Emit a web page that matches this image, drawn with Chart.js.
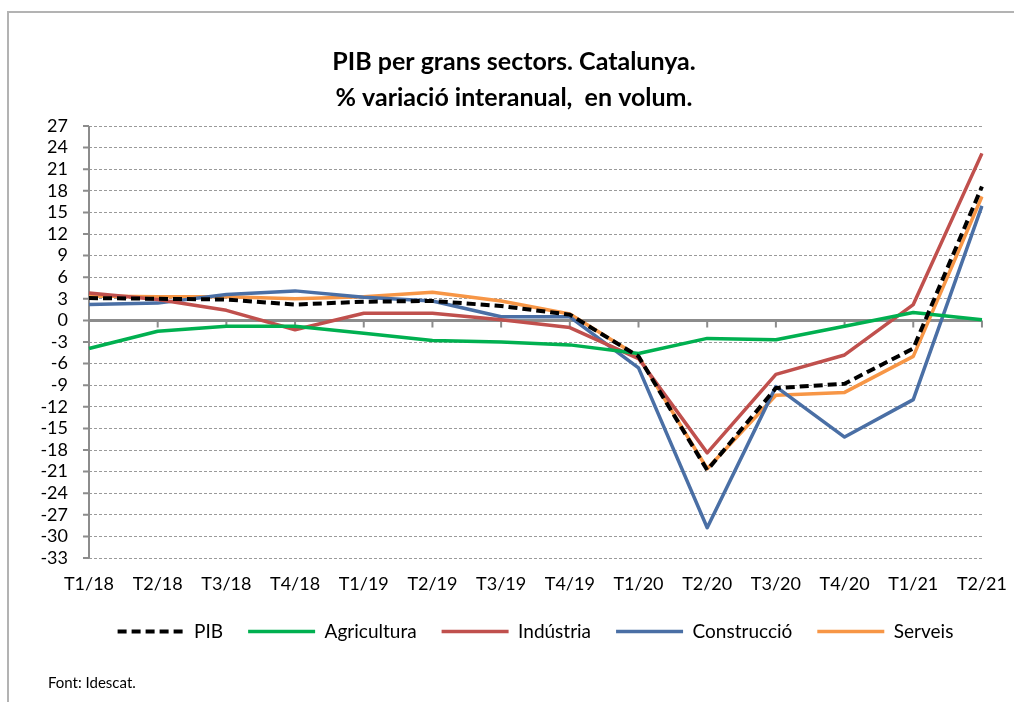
<!DOCTYPE html>
<html>
<head>
<meta charset="utf-8">
<script src="https://cdn.jsdelivr.net/npm/chart.js@4"></script>
<style>
  html, body { margin: 0; padding: 0; background: #fff; }
  #wrap { position: relative; width: 1014px; height: 702px; overflow: hidden; }
  #frame { position: absolute; left: 7px; top: 11px; width: 1100px; height: 800px;
           border-left: 2px solid #b3b3b3; border-top: 2px solid #b3b3b3; }
  #chart { position: absolute; left: 0; top: 0; }
  #font { position: absolute; left: 48px; top: 673px; font: 15px Lato, sans-serif; color: #000; }
</style>
</head>
<body>
<div id="wrap">
  <div id="frame"></div>
  <canvas id="chart" width="1014" height="702"></canvas>
  <div id="font">Font: Idescat.</div>
</div>
<script>
"use strict";

// data
const quarters = ['T1/18', 'T2/18', 'T3/18', 'T4/18', 'T1/19', 'T2/19', 'T3/19',
  'T4/19', 'T1/20', 'T2/20', 'T3/20', 'T4/20', 'T1/21', 'T2/21'];

const pib = [3.1, 3.0, 2.9, 2.2, 2.6, 2.7, 2.0, 0.8, -5.0, -20.8, -9.4, -8.8, -3.9, 18.6];
const agricultura = [-3.9, -1.5, -0.8, -0.8, -1.8, -2.8, -3.0, -3.4, -4.6, -2.5, -2.7, -0.8, 1.1, 0.1];
const industria = [3.8, 2.9, 1.4, -1.3, 1.0, 1.0, 0.1, -1.0, -5.3, -18.4, -7.5, -4.8, 2.2, 23.2];
const construccio = [2.2, 2.4, 3.6, 4.1, 3.2, 2.7, 0.5, 0.5, -6.6, -28.8, -9.2, -16.2, -11.0, 15.9];
const serveis = [3.4, 3.3, 3.3, 3.0, 3.3, 3.9, 2.7, 0.9, -5.0, -20.6, -10.4, -10.0, -5.0, 17.2];

const yMin = -33, yMax = 27, yStep = 3;

const titleLines = ['PIB per grans sectors. Catalunya.', '% variació interanual,  en volum.'];

// axis lines drawn like the excel original: y axis + solid zero line with tick marks
const axisLines = {
  id: 'axisLines',
  beforeDatasetsDraw(chart) {
    const { ctx, chartArea } = chart;
    const x = chart.scales.x;
    const y = chart.scales.y;
    const y0 = y.getPixelForValue(0);
    ctx.save();
    ctx.strokeStyle = '#8c8c8c';
    ctx.lineWidth = 2;
    ctx.setLineDash([]);
    ctx.beginPath();
    ctx.moveTo(chartArea.left, chartArea.top);
    ctx.lineTo(chartArea.left, chartArea.bottom);
    y.ticks.forEach((t) => {
      const py = y.getPixelForValue(t.value);
      ctx.moveTo(chartArea.left - 6, py);
      ctx.lineTo(chartArea.left, py);
    });
    ctx.stroke();
    ctx.lineWidth = 3;
    ctx.beginPath();
    ctx.moveTo(chartArea.left, y0);
    ctx.lineTo(chartArea.right, y0);
    ctx.stroke();
    ctx.lineWidth = 2;
    ctx.beginPath();
    x.ticks.forEach((t, i) => {
      const px = x.getPixelForTick(i);
      ctx.moveTo(px, y0);
      ctx.lineTo(px, y0 + 7);
    });
    ctx.stroke();
    ctx.restore();
  }
};

const line = (label, data, color, dash) => ({
  label,
  data,
  borderColor: color,
  backgroundColor: color,
  borderWidth: dash ? 4 : 3.5,
  borderDash: dash || [],
  borderJoinStyle: 'round',
  pointRadius: 0,
  tension: 0
});

const config = {
  type: 'line',
  data: {
    labels: quarters,
    datasets: [
      line('PIB', pib, '#000000', [9, 5]),
      line('Agricultura', agricultura, '#00b050'),
      line('Indústria', industria, '#c0504d'),
      line('Construcció', construccio, '#4a6fa5'),
      line('Serveis', serveis, '#f79646')
    ]
  },
  plugins: [axisLines],
  options: {
    responsive: false,
    animation: false,
    layout: { padding: { left: 40, right: 26, top: 0, bottom: 51 } },
    plugins: {
      title: {
        display: true,
        text: titleLines,
        color: '#000',
        font: { family: 'Lato', size: 25, weight: 'bold', lineHeight: 1.44 },
        padding: { top: 44, bottom: 10 }
      },
      legend: {
        position: 'bottom',
        fullSize: false,
        labels: {
          color: '#000',
          font: { family: 'Lato', size: 19 },
          usePointStyle: true,
          pointStyle: 'line',
          pointStyleWidth: 67,
          padding: 25,
          generateLabels: (chart) => {
            const items = Chart.defaults.plugins.legend.labels.generateLabels(chart);
            items.forEach((it) => {
              const ds = chart.data.datasets[it.datasetIndex];
              it.lineDash = ds.borderDash;
              it.lineWidth = ds.borderWidth;
            });
            return items;
          }
        }
      },
      tooltip: { enabled: false }
    },
    scales: {
      x: {
        offset: false,
        grid: { display: false },
        border: { display: false },
        ticks: {
          color: '#000',
          font: { family: 'Lato', size: 18 },
          autoSkip: false,
          maxRotation: 0,
          padding: 7
        },
        afterFit: (s) => { s.height = 39; }
      },
      y: {
        min: yMin,
        max: yMax,
        grid: { color: '#9a9a9a', lineWidth: 1, drawTicks: false },
        border: { display: false, dash: [3, 2] },
        ticks: {
          stepSize: yStep,
          autoSkip: false,
          color: '#000',
          font: { family: 'Lato', size: 18 },
          padding: 21
        },
        afterFit: (s) => { s.width = 49; }
      }
    }
  }
};

const chart = new Chart(document.getElementById('chart'), config);
</script>
</body>
</html>
